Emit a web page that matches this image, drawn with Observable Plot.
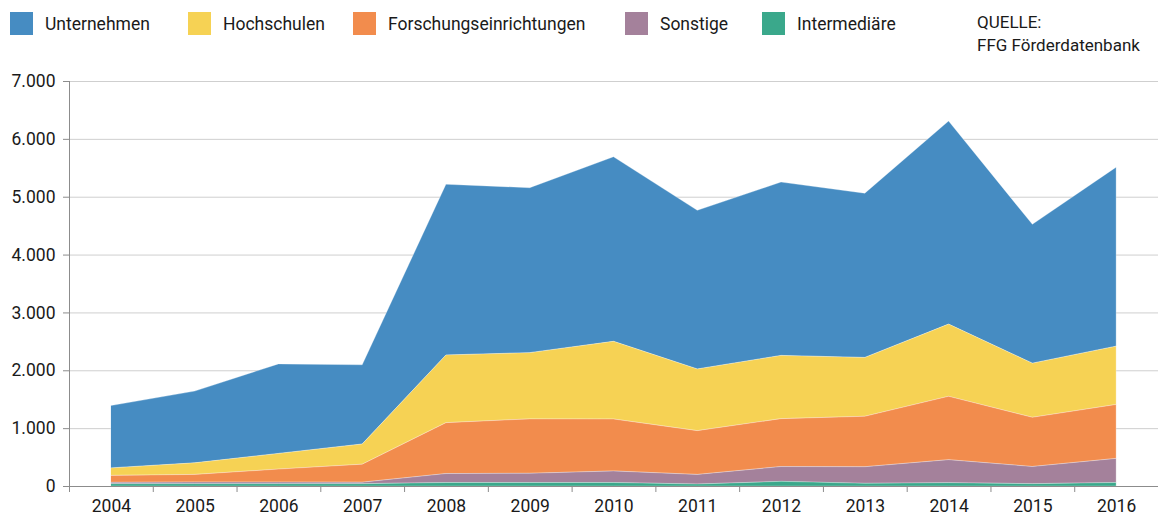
<!DOCTYPE html>
<html>
<head>
<meta charset="utf-8">
<script src="https://cdn.jsdelivr.net/npm/d3@7"></script>
<script src="https://cdn.jsdelivr.net/npm/@observablehq/plot@0.6"></script>
<style>
  html, body { margin: 0; padding: 0; background: #fff; }
  body { width: 1158px; height: 517px; overflow: hidden; font-family: Roboto, "Noto Sans", sans-serif; color: #1a1a1a; }
  #legend { position: relative; height: 60px; width: 1158px; font-size: 17.5px; }
  .item { position: absolute; top: 12px; height: 23px; display: flex; align-items: center; }
  .sw { width: 23px; height: 23px; margin-right: 12px; }
  .src { position: absolute; left: 977px; top: 11px; line-height: 23px; font-size: 17px; }
  #chart svg { display: block; }
</style>
</head>
<body>
<div id="legend"></div>
<div id="chart"></div>
<script>
const years = [2004, 2005, 2006, 2007, 2008, 2009, 2010, 2011, 2012, 2013, 2014, 2015, 2016];
const categories = ["Unternehmen", "Hochschulen", "Forschungseinrichtungen", "Sonstige", "Intermediäre"];
const colors = ["#468cc2", "#f6d254", "#f28c4d", "#a4819b", "#3aa88b"];
const unternehmen = [1077, 1240, 1547, 1369, 2950, 2850, 3190, 2742, 2996, 2838, 3510, 2400, 3093];
const hochschulen = [130, 200, 271, 349, 1170, 1145, 1342, 1066, 1093, 1017, 1248, 936, 1008];
const forschung = [120, 131, 224, 311, 880, 940, 898, 757, 828, 872, 1095, 850, 932];
const sonstige = [23, 29, 28, 26, 155, 160, 200, 166, 256, 287, 397, 297, 417];
const intermediaere = [40, 40, 40, 40, 60, 60, 60, 34, 80, 46, 58, 40, 60];
const yTicks = [0, 1000, 2000, 3000, 4000, 5000, 6000, 7000];
const sourceLines = ["QUELLE:", "FFG Förderdatenbank"];

const seriesValues = [unternehmen, hochschulen, forschung, sonstige, intermediaere];
const rows = [];
categories.forEach((c, i) => {
  years.forEach((y, j) => rows.push({year: y, category: c, value: seriesValues[i][j]}));
});
const stackOrder = categories.slice().reverse();

// legend
const legend = document.getElementById("legend");
const legendX = [10, 188, 353, 625, 762];
categories.forEach((c, i) => {
  const d = document.createElement("div");
  d.className = "item";
  d.style.left = legendX[i] + "px";
  d.innerHTML = `<span class="sw" style="background:${colors[i]}"></span><span>${c}</span>`;
  legend.appendChild(d);
});
const src = document.createElement("div");
src.className = "src";
src.innerHTML = sourceLines.join("<br>");
legend.appendChild(src);

const fmt = d => d3.format(",")(d).replace(/,/g, ".");
const bounds = years.map(y => y - 0.5).concat([years[years.length - 1] + 0.5]);

const chart = Plot.plot({
  width: 1158,
  height: 457,
  marginLeft: 69,
  marginRight: 0,
  marginTop: 21,
  marginBottom: 31,
  style: {fontFamily: "Roboto, 'Noto Sans', sans-serif", fontSize: "17.5px", color: "#1a1a1a", background: "#fff"},
  x: {domain: [bounds[0], bounds[bounds.length - 1]]},
  y: {domain: [0, 7000]},
  color: {domain: categories, range: colors},
  marks: [
    Plot.gridY(yTicks, {stroke: "#cfcfcf", strokeOpacity: 1}),
    Plot.areaY(rows, Plot.stackY({
      x: "year", y: "value", z: "category", fill: "category",
      order: stackOrder,
      stroke: "#fff", strokeOpacity: 0.35, strokeWidth: 0.8
    })),
    Plot.ruleX([bounds[0]], {stroke: "#8c8c8c"}),
    Plot.ruleY([0], {stroke: "#8c8c8c"}),
    Plot.axisY(yTicks, {tickSize: 6, tickPadding: 8, tickFormat: fmt, stroke: "#8c8c8c", fill: "#1a1a1a", label: null, fontSize: 17.5}),
    Plot.axisX(bounds, {tickSize: 6, tickFormat: () => "", stroke: "#8c8c8c", label: null}),
    Plot.axisX(years, {tickSize: 0, tickPadding: 13, tickFormat: d => String(d), fill: "#1a1a1a", label: null, fontSize: 17.5})
  ]
});
document.getElementById("chart").appendChild(chart);
</script>
</body>
</html>
